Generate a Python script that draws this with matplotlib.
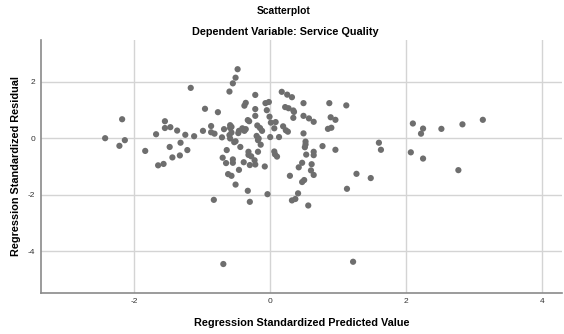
import matplotlib
matplotlib.use("Agg")
import matplotlib.pyplot as plt

plt.rcParams['font.family'] = ['Liberation Sans', 'DejaVu Sans']
plt.rcParams['axes.unicode_minus'] = False

# standardized predicted values (x) and standardized residuals (y)
pred = [-2.43, -2.18, -2.22, -2.14, -1.84, -1.68, -1.55, -1.55, -1.47, -1.48,
        -1.37, -1.25, -1.32, -1.44, -1.33, -1.22, -1.65, -1.57, -1.17, -1.12,
        -0.99, -0.96, -0.87, -0.87, -0.82, -0.77, -0.71, -0.68, -0.70, -0.64,
        -0.65, -0.60, -0.55, -0.51, -0.48, -0.59, -0.59, -0.57, -0.57, -0.60,
        -0.59, -0.55, -0.55, -0.62, -0.57, -0.51, -0.46, -0.51, -0.53, -0.47,
        -0.46, -0.41, -0.36, -0.38, -0.44, -0.39, -0.38, -0.36, -0.33, -0.31,
        -0.32, -0.32, -0.28, -0.23, -0.22, -0.30, -0.33, -0.30, -0.22, -0.22,
        -0.22, -0.19, -0.15, -0.12, -0.20, -0.17, -0.18, -0.14, -0.18, -0.08,
        -0.04, -0.07, -0.02, -0.05, -0.01, 0.01, 0.08, 0.06, 0.00, 0.13,
        0.06, 0.07, 0.10, 0.17, 0.25, 0.32, 0.22, 0.27, 0.34, 0.35,
        0.34, 0.19, 0.23, 0.26, 0.29, 0.32, 0.37, 0.41, 0.42, 0.47,
        0.49, 0.49, 0.57, 0.64, 0.49, 0.52, 0.52, 0.51, 0.53, 0.64,
        0.64, 0.61, 0.60, 0.64, 0.50, 0.47, 0.56, 0.77, 0.87, 0.89,
        0.96, 0.85, 0.90, 0.96, 1.12, 1.13, 1.27, 1.48, 1.60, 1.63,
        2.10, 2.25, 2.22, 2.52, 2.83, 3.13, 2.07, 2.25, 2.77, -0.83,
        -0.69, 1.22]
resid = [0.00, 0.67, -0.27, -0.07, -0.45, 0.14, 0.60, 0.36, 0.39, -0.31,
         0.27, 0.12, -0.16, -0.68, -0.61, -0.42, -0.96, -0.91, 1.78, 0.07,
         0.26, 1.04, 0.43, 0.21, 0.16, 0.92, 0.03, 0.32, -0.69, -0.42,
         -0.88, 1.65, 1.94, 2.14, 2.44, 0.46, 0.36, 0.40, 0.20, 0.11,
         -0.01, -0.75, -0.87, -1.27, -1.33, -1.64, -1.12, -0.11, -0.14, 0.18,
         0.26, 0.35, 0.32, 0.26, -0.31, -0.85, 1.15, 1.25, 0.64, 0.60,
         -0.48, -0.59, -0.64, -0.78, -0.93, -0.95, -1.86, -2.25, 1.53, 1.03,
         0.79, 0.45, 0.36, 0.26, 0.08, -0.01, -0.07, -0.23, -0.48, -1.00,
         -1.98, 1.24, 1.28, 0.99, 0.76, 0.55, 0.57, 0.35, 0.04, 0.04,
         -0.47, -0.57, -0.65, 1.64, 1.54, 1.45, 1.10, 1.06, 0.98, 0.93,
         0.72, 0.42, 0.28, 0.23, -1.33, -2.20, -2.15, -1.95, -1.03, -0.87,
         1.24, 0.79, 0.70, 0.58, 0.17, -0.12, -0.22, -0.32, -0.58, -0.48,
         -0.60, -0.92, -1.14, -1.30, -1.48, -1.55, -2.38, -0.28, 1.24, 0.74,
         0.65, 0.33, 0.37, -0.41, 1.16, -1.79, -1.26, -1.41, -0.16, -0.41,
         0.52, 0.34, 0.16, 0.33, 0.49, 0.65, -0.50, -0.72, -1.13, -2.18,
         -4.45, -4.37]

fig = plt.figure(figsize=(5.64, 3.34), dpi=100)
ax = fig.add_axes([0.072, 0.124, 0.925, 0.756])

ax.scatter(pred, resid, s=20, color='#6e6e6e', edgecolors='none', zorder=3)

ax.set_xlim(-3.38, 4.3)
ax.set_ylim(-5.46, 3.47)
ax.set_xticks([-2, 0, 2, 4])
ax.set_yticks([-4, -2, 0, 2])
ax.grid(True, color='#d4d4d4', linewidth=1)
ax.set_axisbelow(True)
ax.tick_params(length=0, labelsize=6, colors='#333333', pad=4)

for s in ['top', 'right']:
    ax.spines[s].set_visible(False)
for s in ['left', 'bottom']:
    ax.spines[s].set_color('#8a8a8a')
    ax.spines[s].set_linewidth(1.2)

ax.set_xlabel('Regression Standardized Predicted Value', fontsize=7.8,
              fontweight='bold')
ax.set_ylabel('Regression Standardized Residual', fontsize=7.8,
              fontweight='bold')
ax.xaxis.set_label_coords(0.5, -0.1)
ax.yaxis.set_label_coords(-0.038, 0.5)

fig.text(0.502, 0.968, 'Scatterplot', ha='center', va='center',
         fontsize=7.4, fontweight='bold')
fig.text(0.505, 0.904, 'Dependent Variable: Service Quality', ha='center',
         va='center', fontsize=7.8, fontweight='bold')

fig.savefig('out.png', dpi=100)
